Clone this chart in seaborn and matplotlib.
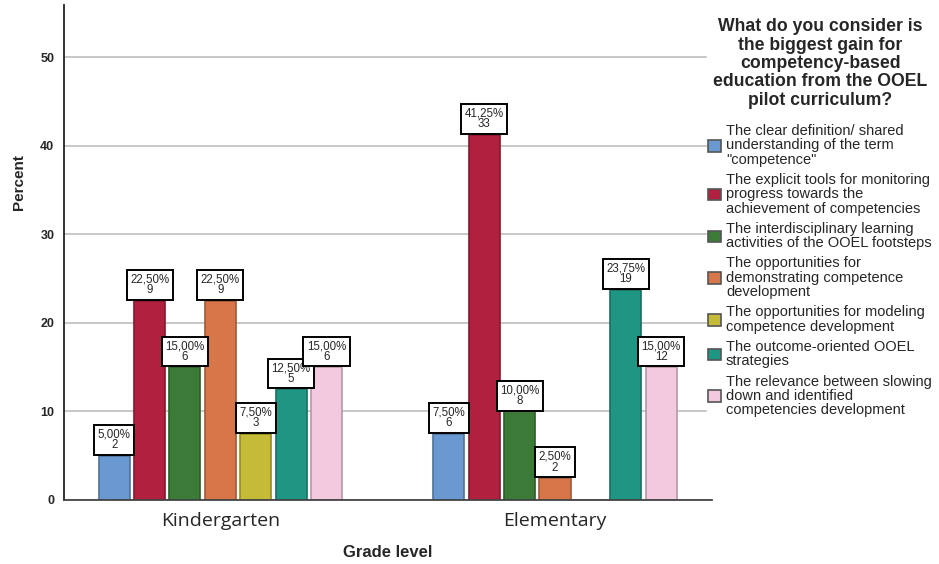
import numpy as np
import pandas as pd
import matplotlib
matplotlib.use("Agg")
import matplotlib.pyplot as plt
import matplotlib.colors as mcolors
import seaborn as sns

grades = ["Kindergarten", "Elementary"]
categories = [
    "The clear definition/ shared\nunderstanding of the term\n\"competence\"",
    "The explicit tools for monitoring\nprogress towards the\nachievement of competencies",
    "The interdisciplinary learning\nactivities of the OOEL footsteps",
    "The opportunities for\ndemonstrating competence\ndevelopment",
    "The opportunities for modeling\ncompetence development",
    "The outcome-oriented OOEL\nstrategies",
    "The relevance between slowing\ndown and identified\ncompetencies development",
]
kinder_pct = [5.00, 22.50, 15.00, 22.50, 7.50, 12.50, 15.00]
kinder_cnt = [2, 9, 6, 9, 3, 5, 6]
elem_pct = [7.50, 41.25, 10.00, 2.50, 0.00, 23.75, 15.00]
elem_cnt = [6, 33, 8, 2, 0, 19, 12]
colors = ["#6a98d0", "#b2203f", "#3b7a37", "#d67649", "#c6bb36", "#1f9584", "#f3c9df"]
yticks = [0, 10, 20, 30, 40, 50]

rows = []
for g, pcts, cnts in [(grades[0], kinder_pct, kinder_cnt), (grades[1], elem_pct, elem_cnt)]:
    for c, p, n in zip(categories, pcts, cnts):
        rows.append({"Grade level": g, "cat": c, "Percent": p, "count": n})
df = pd.DataFrame(rows)

sns.set_style("white")
plt.rcParams["font.family"] = ["Liberation Sans", "DejaVu Sans"]

fig = plt.figure(figsize=(9.39, 5.64), dpi=100)
ax = fig.add_axes([64 / 939, 1 - 500 / 564, (712 - 64) / 939, 495 / 564])

sns.barplot(data=df, x="Grade level", y="Percent", hue="cat", hue_order=categories,
            order=grades, palette=colors, saturation=1, width=0.74, gap=0.12, ax=ax,
            linewidth=1.2, legend=True)

for cont, col in zip(ax.containers, colors):
    dark = np.array(mcolors.to_rgb(col)) * 0.75
    for bar in cont:
        bar.set_edgecolor(dark)

fs_lab = 8.3
pad = 0.3
cnt_lookup = {(g, c): n for g, c, n in zip(df["Grade level"], df["cat"], df["count"])}
for ci, cont in enumerate(ax.containers):
    for gi, bar in enumerate(cont):
        h = bar.get_height()
        if h <= 0:
            continue
        n = cnt_lookup[(grades[gi], categories[ci])]
        txt = f"{h:.2f}%".replace(".", ",") + f"\n{n}"
        ax.annotate(txt, (bar.get_x() + bar.get_width() / 2, h), xytext=(0, pad * fs_lab + 0.6),
                    textcoords="offset points", ha="center", va="bottom",
                    fontsize=fs_lab, linespacing=0.85, zorder=5,
                    bbox=dict(boxstyle=f"square,pad={pad}", fc="white", ec="black", lw=1.4))

ax.set_xlim(-0.467, 1.469)
ax.set_ylim(0, 55.9)
ax.set_yticks(yticks)
ax.set_yticklabels([str(t) for t in yticks], fontsize=9, fontweight="bold")
ax.yaxis.grid(True, color="#bdbdbd", lw=1.2)
ax.set_axisbelow(True)
for t in ax.get_xticklabels():
    t.set_fontfamily("Open Sans")
    t.set_fontsize(14)
ax.tick_params(axis="x", length=0, pad=9)
ax.tick_params(axis="y", length=0, pad=7)
ax.set_ylabel("Percent", fontsize=11, fontweight="bold")
ax.yaxis.set_label_coords(-0.058, (500 - 182) / 495)
ax.set_xlabel("Grade level", fontsize=12, fontweight="bold")
ax.xaxis.set_label_coords((388 - 64) / 648, -(545 - 500) / 495)
sns.despine(ax=ax)
ax.spines["left"].set_color("#222222")
ax.spines["bottom"].set_color("#444444")
ax.spines["left"].set_linewidth(1.3)
ax.spines["bottom"].set_linewidth(1.3)

handles, labels = ax.get_legend_handles_labels()
ax.legend_.remove()
leg = fig.legend(handles, labels, loc="upper left", bbox_to_anchor=(707 / 939, 1 - 17 / 564),
                 title="What do you consider is\nthe biggest gain for\ncompetency-based\neducation from the OOEL\npilot curriculum?",
                 frameon=True, fontsize=10.5, title_fontproperties={"weight": "bold", "size": 12.7},
                 handlelength=0.85, handleheight=0.85, handletextpad=0.35, labelspacing=0.43,
                 borderpad=0.1, borderaxespad=0)
leg.get_frame().set_facecolor("white")
leg.get_frame().set_edgecolor("white")
leg.get_frame().set_alpha(1)
for t in leg.get_texts():
    t.set_linespacing(1.03)
leg.get_title().set_multialignment("center")
leg.get_title().set_linespacing(1.1)
leg._legend_box.align = "center"
leg._legend_box.sep = 11
for h in leg.legend_handles:
    h.set_edgecolor("#555555")

fig.savefig("out.png", dpi=100)
